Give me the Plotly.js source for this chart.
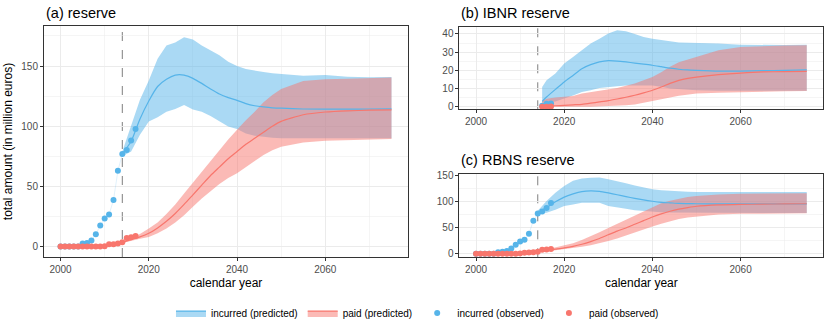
<!DOCTYPE html>
<html>
<head>
<meta charset="utf-8">
<script src="https://cdn.plot.ly/plotly-3.0.1.min.js"></script>
<style>
  html, body { margin: 0; padding: 0; background: #fff; }
  #chart { width: 830px; height: 332px; }
</style>
</head>
<body>
<div id="chart"></div>
<script>
// --- observed values (million euros) ---
var OBS_YEARS = [2000, 2001, 2002, 2003, 2004, 2005, 2006, 2007, 2008, 2009,
                 2010, 2011, 2012, 2013, 2014, 2015, 2016, 2017];
var A_INC_OBS  = [0, 0, 0, 0, 0, 2.5, 3, 5, 10.2, 17.4, 23.4, 26.7, 38.6, 62.9, 76.9, 80.2, 88.2, 97.6];
var A_PAID_OBS = [0, 0, 0, 0, 0, 0, 0, 0, 0, 0, 0.3, 1.9, 2, 2.5, 3.6, 7.2, 7.7, 8.8];
var C_INC_OBS  = [0, 0, 0, 0, 0, 2.5, 3.5, 5, 10, 17, 23, 26.7, 38, 63, 76.5, 80.5, 87, 96.5];
var C_PAID_OBS = [0, 0, 0, 0, 0, 0, 0, 0, 0, 0, 0.3, 1.9, 2.2, 2.7, 3.7, 7.2, 8, 9];

var B_OBS_YEARS = [2015, 2016, 2017];
var B_INC_OBS   = [0.5, 1.6, 1.7];
var B_PAID_OBS  = [0, 0, 0.1];

var VALUATION_YEAR = 2014;

// --- predicted mean and interval ---
var PRED_YEARS = [2014, 2016, 2018, 2020, 2022, 2024, 2026, 2028, 2030, 2032, 2034, 2036,
                  2038, 2040, 2042, 2044, 2046, 2048, 2050, 2055, 2060, 2065, 2070, 2075];

// (a) reserve
var A_INC_MID = [77, 87.5, 106, 121, 133, 139, 142.5, 142.5, 139.8, 135.6, 131, 126.8,
                 123.8, 121.5, 118.8, 117, 116, 115.3, 115, 114.3, 114.2, 114.2, 114.3, 114.5];
var A_INC_HI  = [79, 100, 122, 138, 156, 167, 169.5, 174, 172, 167, 163, 159,
                 153.6, 150, 147.5, 146, 145, 144, 143.4, 142, 142.6, 141.2, 140.6, 141];
var A_INC_LO  = [75, 79, 93, 104, 107.5, 112, 114.4, 117.7, 114, 112, 108.6, 104,
                 99.8, 97.6, 94, 92, 91, 90.5, 90, 89.5, 89.5, 89.7, 90, 90];
var A_PAID_MID = [3.5, 5.8, 8, 11, 15.5, 21, 27.5, 35, 43, 51, 59, 66,
                  73, 79, 85, 90, 95, 100, 104, 109.5, 111.8, 112.8, 113.3, 113.6];
var A_PAID_HI  = [4, 7.5, 10.5, 15, 20, 27, 35, 44, 53, 62, 71, 80,
                  89, 97, 105, 112, 120, 126, 131, 137.5, 139, 139.5, 140, 140.5];
var A_PAID_LO  = [3, 5, 6.5, 8, 11, 15, 20, 26, 33, 40, 46, 52,
                  57, 61, 66, 71, 76, 80, 83, 86.5, 88, 88.5, 89, 89.3];

// (b) IBNR reserve, starts one year later
var B_PRED_YEARS = [2015, 2016, 2018, 2020, 2022, 2024, 2026, 2028, 2030, 2032, 2034, 2036,
                    2038, 2040, 2042, 2044, 2046, 2048, 2050, 2055, 2060, 2065, 2070, 2075];
var B_INC_MID = [2.9, 5.3, 9.5, 13.6, 17.2, 20.9, 23.1, 24.6, 25.3, 25.1, 24.6, 24,
                 23.4, 22.8, 22, 21.2, 20.6, 20.2, 20, 19.6, 19.6, 19.8, 20, 20.2];
var B_INC_HI  = [10.8, 14.5, 18.2, 23.7, 27.3, 31, 34.7, 37.4, 40.2, 42, 41.5, 40,
                 38.3, 37.4, 36.5, 36, 35.3, 35.2, 35.2, 34.7, 34.1, 33.8, 33.9, 34.1];
var B_INC_LO  = [2.2, 2.3, 2.9, 4.4, 6.2, 8, 9, 10.3, 10.8, 11.2, 11.7, 11.8,
                 11.7, 11.7, 11, 10, 9.5, 9.2, 9, 8.8, 8.7, 8.7, 8.8, 8.8];
var B_PAID_MID = [0.2, 0.3, 0.5, 0.7, 1, 1.3, 1.9, 2.6, 3.3, 4.2, 5.2, 6.3,
                  7.6, 9, 10.8, 12.8, 14.5, 15.6, 16.3, 17.6, 18.5, 19.1, 19.3, 19.4];
var B_PAID_HI  = [3, 4.4, 5, 5.3, 5.9, 7.2, 8, 8.6, 9.5, 10.3, 11.5, 12.7,
                  14.5, 16.3, 19, 22, 24.5, 26, 27.3, 31, 32.8, 33.4, 33.6, 33.8];
var B_PAID_LO  = [0, 0, 0, 0, 0, 0, 0, 0.1, 0.3, 0.5, 0.8, 1.2,
                  1.8, 2.9, 4, 5, 6, 6.7, 7.2, 7.7, 8.1, 8.3, 8.5, 8.6];

// (c) RBNS reserve
var C_INC_MID = [78, 88, 99, 108, 114, 118.5, 120, 119, 116, 112.5, 109, 105.5,
                 102.5, 100, 98, 97, 96, 95.6, 95.3, 95, 95, 95, 95.1, 95.2];
var C_INC_HI  = [82, 100.5, 116.5, 129, 139, 143.6, 145, 145.5, 142, 139, 134.6, 130,
                 126, 123, 121, 119.8, 118.8, 118.2, 117.8, 117.6, 117.6, 117.5, 117.5, 117.5];
var C_INC_LO  = [76, 78, 84, 90.8, 94, 97, 97, 97, 90.8, 87.6, 85.6, 83,
                 81, 80, 79, 78.5, 78.3, 78, 78, 77.8, 77.5, 77.5, 77.5, 77.5];
var C_PAID_MID = [3.5, 6, 8.5, 11, 14, 18, 23, 29, 36, 43, 49, 56,
                  63, 70, 76, 81, 85, 88, 90.5, 93, 94, 94.5, 95, 95.3];
var C_PAID_HI  = [4, 8, 11, 15, 20, 26, 33, 41, 49, 57, 65, 73,
                  81, 89, 96, 101, 105, 108, 110, 113, 114.5, 115, 115.3, 115.5];
var C_PAID_LO  = [3, 4.5, 6.5, 8.5, 10.5, 13, 16, 19.5, 24, 29, 34, 40,
                  46, 52, 57, 62, 66, 69, 71.5, 74.5, 76, 76.5, 77, 77];

// --- style ---
var BLUE = '#56B4E9';
var RED = '#F8766D';
var BLUE_FILL = 'rgba(86,180,233,0.5)';
var RED_FILL = 'rgba(248,118,109,0.5)';
var FONT = 'Liberation Sans, Arial, sans-serif';

function ribbon(x, lo, hi, fillcolor, xa, ya) {
  return {
    x: x.concat(x.slice().reverse()),
    y: hi.concat(lo.slice().reverse()),
    xaxis: xa, yaxis: ya,
    type: 'scatter', mode: 'lines', fill: 'toself', fillcolor: fillcolor,
    line: { width: 0, color: 'rgba(0,0,0,0)' },
    hoverinfo: 'skip', showlegend: false
  };
}

function line(x, y, color, xa, ya) {
  return {
    x: x, y: y, xaxis: xa, yaxis: ya, type: 'scatter', mode: 'lines',
    line: { color: color, width: 1.2, shape: 'spline', smoothing: 0.6 },
    showlegend: false
  };
}

function dots(x, y, color, xa, ya) {
  return {
    x: x, y: y, xaxis: xa, yaxis: ya, type: 'scatter', mode: 'markers',
    marker: { color: color, size: 6 }, showlegend: false
  };
}

function faint(x, y, xa, ya) {
  // the thin sliver ggplot leaves where the ribbon has zero width
  return {
    x: x.slice(0, 15), y: y.slice(0, 15), xaxis: xa, yaxis: ya,
    type: 'scatter', mode: 'lines',
    line: { color: 'rgba(86,180,233,0.3)', width: 0.6 },
    hoverinfo: 'skip', showlegend: false
  };
}

function panel(xs, inc, paid, obsX, incObs, paidObs, xa, ya, withFaint) {
  var t = [
    ribbon(xs, inc.lo, inc.hi, BLUE_FILL, xa, ya),
    ribbon(xs, paid.lo, paid.hi, RED_FILL, xa, ya),
    line(xs, inc.mid, BLUE, xa, ya),
    line(xs, paid.mid, RED, xa, ya)
  ];
  if (withFaint) t.push(faint(obsX, incObs, xa, ya));
  t.push(dots(obsX, incObs, BLUE, xa, ya));
  t.push(dots(obsX, paidObs, RED, xa, ya));
  return t;
}

var data = []
  .concat(panel(PRED_YEARS, { mid: A_INC_MID, lo: A_INC_LO, hi: A_INC_HI },
                { mid: A_PAID_MID, lo: A_PAID_LO, hi: A_PAID_HI },
                OBS_YEARS, A_INC_OBS, A_PAID_OBS, 'x', 'y', true))
  .concat(panel(B_PRED_YEARS, { mid: B_INC_MID, lo: B_INC_LO, hi: B_INC_HI },
                { mid: B_PAID_MID, lo: B_PAID_LO, hi: B_PAID_HI },
                B_OBS_YEARS, B_INC_OBS, B_PAID_OBS, 'x2', 'y2', false))
  .concat(panel(PRED_YEARS, { mid: C_INC_MID, lo: C_INC_LO, hi: C_INC_HI },
                { mid: C_PAID_MID, lo: C_PAID_LO, hi: C_PAID_HI },
                OBS_YEARS, C_INC_OBS, C_PAID_OBS, 'x3', 'y3', true));

// legend entries (no data of their own)
data.push({ x: [null], y: [null], type: 'scatter', mode: 'lines', name: 'incurred (predicted)',
            fill: 'toself', fillcolor: BLUE_FILL, line: { color: BLUE, width: 1.2 } });
data.push({ x: [null], y: [null], type: 'scatter', mode: 'lines', name: 'paid (predicted)',
            fill: 'toself', fillcolor: RED_FILL, line: { color: RED, width: 1.2 } });
data.push({ x: [null], y: [null], type: 'scatter', mode: 'markers', name: 'incurred (observed)',
            marker: { color: BLUE, size: 6 } });
data.push({ x: [null], y: [null], type: 'scatter', mode: 'markers', name: 'paid (observed)',
            marker: { color: RED, size: 6 } });

var X_RANGE = [1996.25, 2078.75];

function xAxis(domain, anchor, withTitle) {
  var ax = {
    domain: domain, anchor: anchor, range: X_RANGE,
    tickmode: 'array', tickvals: [2000, 2020, 2040, 2060],
    ticks: 'outside', ticklen: 3, tickwidth: 1, tickcolor: '#333333',
    showline: true, mirror: true, linecolor: '#333333', linewidth: 1,
    showgrid: true, gridcolor: '#EBEBEB', gridwidth: 1,
    minor: { tickmode: 'array', tickvals: [2010, 2030, 2050, 2070], showgrid: true,
             gridcolor: '#EBEBEB', gridwidth: 0.5 },
    zeroline: false, tickfont: { size: 10, color: '#4D4D4D' }, fixedrange: true
  };
  if (withTitle) ax.title = { text: 'calendar year', font: { size: 12, color: '#000' }, standoff: 4 };
  return ax;
}

function yAxis(domain, anchor, range, ticks, minor) {
  return {
    domain: domain, anchor: anchor, range: range,
    tickmode: 'array', tickvals: ticks,
    ticks: 'outside', ticklen: 3, tickwidth: 1, tickcolor: '#333333',
    showline: true, mirror: true, linecolor: '#333333', linewidth: 1,
    showgrid: true, gridcolor: '#EBEBEB', gridwidth: 1,
    minor: { tickmode: 'array', tickvals: minor, showgrid: true, gridcolor: '#EBEBEB', gridwidth: 0.5 },
    zeroline: false, tickfont: { size: 10, color: '#4D4D4D' }, fixedrange: true
  };
}

var A_XD = [0.0530, 0.4916], A_YD = [0.2259, 0.9217];
var R_XD = [0.5536, 0.9919], B_YD = [0.6708, 0.9196], C_YD = [0.2250, 0.4750];

var yA = yAxis(A_YD, 'x', [-8.7, 183.3], [0, 50, 100, 150], [25, 75, 125, 175]);
yA.title = { text: 'total amount (in million euros)', font: { size: 12, color: '#000' }, standoff: 6 };

function vline(xref, yref) {
  return { type: 'line', layer: 'below', xref: xref, yref: yref + ' domain',
           x0: VALUATION_YEAR, x1: VALUATION_YEAR, y0: 0, y1: 1,
           line: { color: '#7F7F7F', width: 1, dash: 'dash' } };
}

function panelTitle(text, x, y) {
  return { text: text, xref: 'paper', yref: 'paper', x: x, y: y, xanchor: 'left', yanchor: 'middle',
           showarrow: false, font: { size: 14.5, color: '#000' } };
}

var layout = {
  width: 830, height: 332,
  margin: { l: 0, r: 0, t: 0, b: 0 },
  paper_bgcolor: '#fff', plot_bgcolor: '#fff',
  font: { family: FONT, color: '#000' },
  showlegend: true,
  legend: { orientation: 'h', x: 0.503, xanchor: 'center', y: 0.057, yanchor: 'middle',
            font: { size: 10, color: '#000' }, itemwidth: 30, traceorder: 'normal' },
  xaxis: xAxis(A_XD, 'y', true),
  yaxis: yA,
  xaxis2: xAxis(R_XD, 'y2', false),
  yaxis2: yAxis(B_YD, 'x2', [-1.45, 44.0], [0, 10, 20, 30, 40], [5, 15, 25, 35]),
  xaxis3: xAxis(R_XD, 'y3', true),
  yaxis3: yAxis(C_YD, 'x3', [-7, 151.5], [0, 50, 100, 150], [25, 75, 125]),
  shapes: [vline('x', 'y'), vline('x2', 'y2'), vline('x3', 'y3')],
  annotations: [
    panelTitle('(a) reserve', 0.0530, 0.9617),
    panelTitle('(b) IBNR reserve', 0.5536, 0.9617),
    panelTitle('(c) RBNS reserve', 0.5536, 0.518)
  ]
};

Plotly.newPlot('chart', data, layout, { staticPlot: true, displayModeBar: false });
</script>
</body>
</html>
